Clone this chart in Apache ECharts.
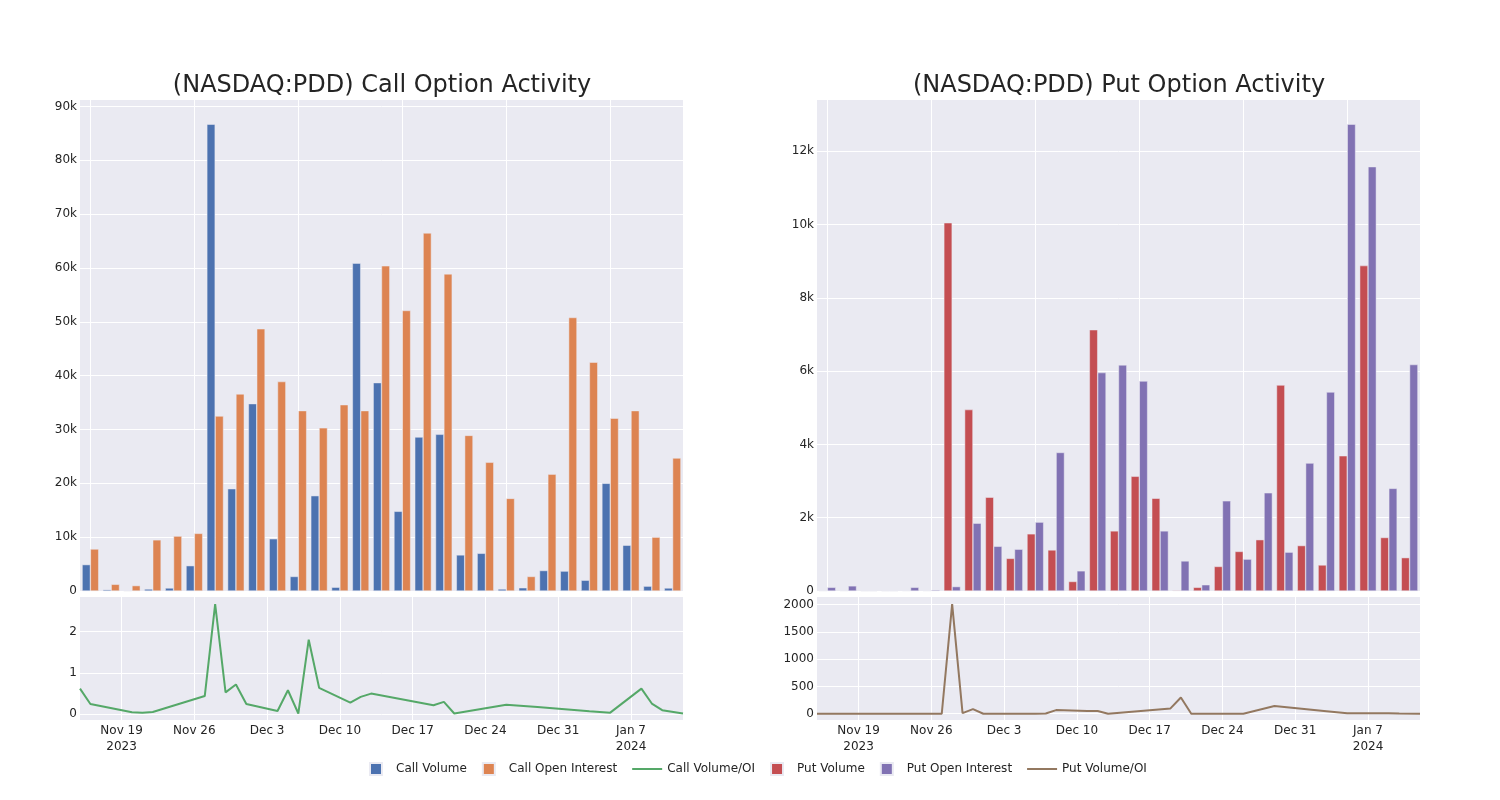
<!DOCTYPE html>
<html><head><meta charset="utf-8">
<script src="https://cdn.jsdelivr.net/npm/echarts@6/dist/echarts.min.js"></script>
<style>html,body{margin:0;padding:0;background:#fff}#c{width:1500px;height:800px}</style>
</head><body><div id="c"></div>
<script>
// ---- data ----
const dates = ['2023-11-15','2023-11-16','2023-11-20','2023-11-21','2023-11-22','2023-11-27','2023-11-28','2023-11-29','2023-11-30','2023-12-01',
  '2023-12-04','2023-12-05','2023-12-06','2023-12-07','2023-12-08','2023-12-11','2023-12-12','2023-12-13','2023-12-19','2023-12-20',
  '2023-12-21','2023-12-26','2023-12-29','2024-01-03','2024-01-05','2024-01-08','2024-01-09','2024-01-10','2024-01-12'];
const callVolume = [4900, 250, 50, 370, 560, 4700, 86700, 19000, 34800, 9700,
  2700, 17700, 700, 60900, 38700, 14800, 28600, 29100, 6700, 7000,
  370, 600, 3800, 3700, 2000, 20000, 8500, 900, 560];
const callOpenInterest = [7800, 1240, 1000, 9500, 10200, 10700, 32500, 36600, 48700, 38900,
  33500, 30300, 34600, 33500, 60400, 52100, 66500, 58900, 28900, 23900,
  17200, 2700, 21700, 50800, 42500, 32100, 33500, 10000, 24700];
const callRatio = [0.62, 0.25, 0.05, 0.04, 0.056, 0.44, 2.66, 0.53, 0.72, 0.25,
  0.08, 0.58, 0.02, 1.8, 0.64, 0.28, 0.42, 0.50, 0.22, 0.30,
  0.02, 0.23, 0.175, 0.075, 0.04, 0.62, 0.26, 0.10, 0.02];
const putVolume = [10, 10, 5, 5, 10, 10, 10050, 4950, 2560, 890,
  1560, 1120, 260, 7130, 1640, 3130, 2530, 20, 100, 670,
  1080, 1400, 5620, 1240, 710, 3690, 8880, 1460, 910];
const putOpenInterest = [100, 140, 5, 5, 100, 30, 120, 1850, 1220, 1140,
  1880, 3780, 550, 5960, 6170, 5730, 1640, 820, 170, 2460,
  870, 2680, 1060, 3490, 5430, 12740, 11580, 2800, 6180];
const putRatio = [0, 0, 0, 0, 0, 0, 2010, 12, 85, 0,
  0, 0, 0, 3, 66, 52, 49, 0, 97, 298,
  0, 0, 140, 45, 8, 10, 8, 5, 0];
const tickDates = ['2023-11-19','2023-11-26','2023-12-03','2023-12-10','2023-12-17','2023-12-24','2023-12-31','2024-01-07'];
const tickLabels = ['Nov 19\n2023','Nov 26','Dec 3','Dec 10','Dec 17','Dec 24','Dec 31','Jan 7\n2024'];

// ---- chart ----
const FONT = 'DejaVu Sans';
const TXT = '#242424';
const BG = '#EAEAF2';
const ts = d => { const p = d.split('-').map(Number); return Date.UTC(p[0], p[1]-1, p[2]); };
const dateTs = dates.map(ts);
const tickTs = tickDates.map(ts);
const catIdx = dates.map((d, i) => String(i));
const kFmt = v => v === 0 ? '0' : (v / 1000) + 'k';
const numFmt = v => String(v);
const tickFmt = v => { const i = tickTs.indexOf(v); return i >= 0 ? tickLabels[i] : ''; };

const white = {show: true, lineStyle: {color: '#ffffff', width: 1}};
const lbl = {color: TXT, fontFamily: FONT, fontSize: 12};
const SQ = 'path://M0,0H10V10H0Z';
const LN = 'path://M0,0H30V2H0Z';

function catAxis(g) {
  return {type: 'category', gridIndex: g, data: catIdx, boundaryGap: true,
    axisLabel: {show: false}, axisTick: {show: false}, axisLine: {show: false},
    splitLine: {show: true, interval: 4, alignWithLabel: true, lineStyle: {color: '#ffffff', width: 1}}};
}
function timeAxis(g) {
  return {type: 'value', gridIndex: g, min: dateTs[0], max: dateTs[dateTs.length-1],
    axisLine: {show: false},
    axisTick: {show: false, customValues: tickTs},
    axisLabel: Object.assign({customValues: tickTs, formatter: tickFmt, margin: 3, lineHeight: 16}, lbl),
    splitLine: white};
}

const option = {
  animation: false,
  backgroundColor: '#ffffff',
  textStyle: {fontFamily: FONT},
  title: [
    {text: '(NASDAQ:PDD) Call Option Activity', left: 377, top: 69, textAlign: 'center',
     textStyle: {fontSize: 24, fontWeight: 'normal', color: TXT, fontFamily: FONT}},
    {text: '(NASDAQ:PDD) Put Option Activity', left: 1114, top: 69, textAlign: 'center',
     textStyle: {fontSize: 24, fontWeight: 'normal', color: TXT, fontFamily: FONT}}
  ],
  legend: {
    left: 364, top: 757, itemWidth: 30, itemHeight: 12, itemGap: 15,
    textStyle: {color: TXT, fontFamily: FONT, fontSize: 12},
    data: [
      {name: 'Call Volume', icon: SQ},
      {name: 'Call Open Interest', icon: SQ},
      {name: 'Call Volume/OI', icon: LN},
      {name: 'Put Volume', icon: SQ},
      {name: 'Put Open Interest', icon: SQ},
      {name: 'Put Volume/OI', icon: LN}
    ]
  },
  grid: [
    {left: 80, top: 100, width: 603, height: 491, show: true, backgroundColor: BG, borderWidth: 0},
    {left: 80, top: 597, width: 603, height: 123, show: true, backgroundColor: BG, borderWidth: 0},
    {left: 817, top: 100, width: 603, height: 491, show: true, backgroundColor: BG, borderWidth: 0},
    {left: 817, top: 597, width: 603, height: 123, show: true, backgroundColor: BG, borderWidth: 0}
  ],
  xAxis: [catAxis(0), timeAxis(1), catAxis(2), timeAxis(3)],
  yAxis: [
    {type: 'value', gridIndex: 0, min: 0, max: 91200, interval: 10000,
     axisLine: {show: false}, axisTick: {show: false},
     axisLabel: Object.assign({formatter: kFmt, margin: 3, showMaxLabel: false}, lbl),
     splitLine: {show: true, showMaxLine: false, lineStyle: {color: '#ffffff', width: 1}}},
    {type: 'value', gridIndex: 1, min: -0.137, max: 2.83, splitNumber: 3,
     axisLine: {show: false}, axisTick: {show: false},
     axisLabel: Object.assign({formatter: numFmt, margin: 3, showMinLabel: false, showMaxLabel: false}, lbl),
     splitLine: {show: true, showMinLine: false, showMaxLine: false, lineStyle: {color: '#ffffff', width: 1}}},
    {type: 'value', gridIndex: 2, min: 0, max: 13400, interval: 2000,
     axisLine: {show: false}, axisTick: {show: false},
     axisLabel: Object.assign({formatter: kFmt, margin: 3, showMaxLabel: false}, lbl),
     splitLine: {show: true, showMaxLine: false, lineStyle: {color: '#ffffff', width: 1}}},
    {type: 'value', gridIndex: 3, min: -115, max: 2139, splitNumber: 5,
     axisLine: {show: false}, axisTick: {show: false},
     axisLabel: Object.assign({formatter: numFmt, margin: 3, showMinLabel: false, showMaxLabel: false}, lbl),
     splitLine: {show: true, showMinLine: false, showMaxLine: false, lineStyle: {color: '#ffffff', width: 1}}}
  ],
  series: [
    {name: 'Call Volume', type: 'bar', xAxisIndex: 0, yAxisIndex: 0, data: callVolume,
     barGap: '0%', barCategoryGap: '20%', itemStyle: {color: '#4C72B0', borderColor: BG, borderWidth: 0.5}},
    {name: 'Call Open Interest', type: 'bar', xAxisIndex: 0, yAxisIndex: 0, data: callOpenInterest,
     barGap: '0%', barCategoryGap: '20%', itemStyle: {color: '#DD8452', borderColor: BG, borderWidth: 0.5}},
    {name: 'Call Volume/OI', type: 'line', xAxisIndex: 1, yAxisIndex: 1,
     data: dateTs.map((t, i) => [t, callRatio[i]]), symbol: 'none',
     itemStyle: {color: '#55A868'}, lineStyle: {color: '#55A868', width: 2}},
    {name: 'Put Volume', type: 'bar', xAxisIndex: 2, yAxisIndex: 2, data: putVolume,
     barGap: '0%', barCategoryGap: '20%', itemStyle: {color: '#C44E52', borderColor: BG, borderWidth: 0.5}},
    {name: 'Put Open Interest', type: 'bar', xAxisIndex: 2, yAxisIndex: 2, data: putOpenInterest,
     barGap: '0%', barCategoryGap: '20%', itemStyle: {color: '#8172B3', borderColor: BG, borderWidth: 0.5}},
    {name: 'Put Volume/OI', type: 'line', xAxisIndex: 3, yAxisIndex: 3,
     data: dateTs.map((t, i) => [t, putRatio[i]]), symbol: 'none',
     itemStyle: {color: '#937860'}, lineStyle: {color: '#937860', width: 2}}
  ]
};
const chart = echarts.init(document.getElementById('c'), null, {renderer: 'canvas'});
chart.setOption(option);
</script>
</body></html>
